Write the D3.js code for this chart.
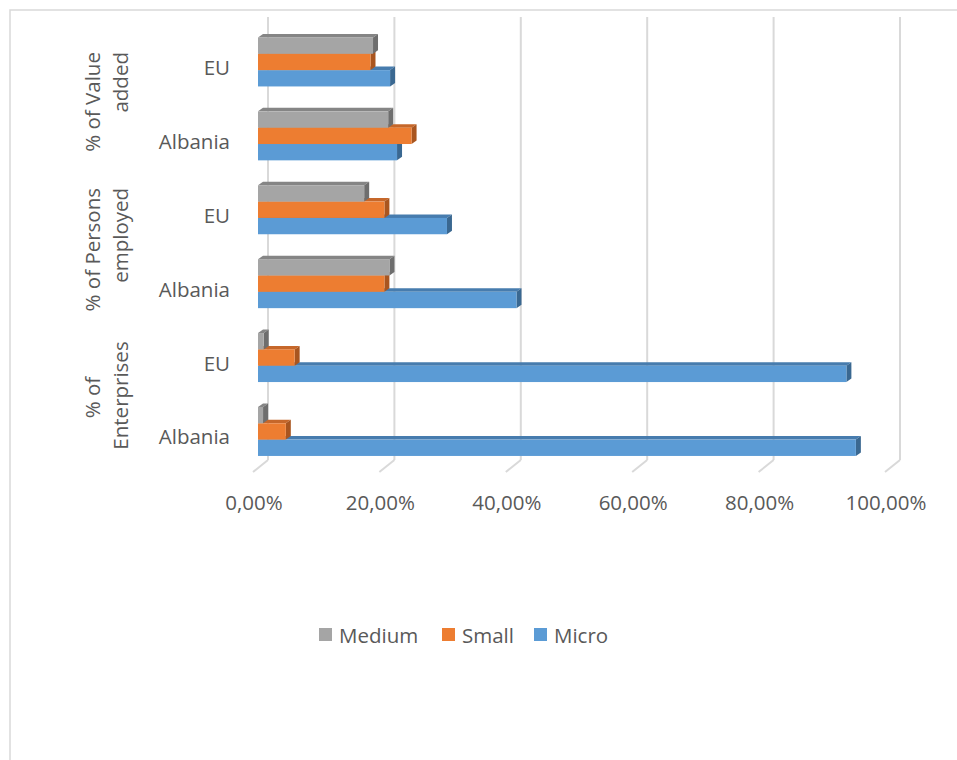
<!DOCTYPE html>
<html>
<head>
<meta charset="utf-8">
<script src="https://cdn.jsdelivr.net/npm/d3@7"></script>
<style>
  html, body { margin: 0; padding: 0; background: #fff; }
  svg { display: block; }
  text { font-family: "Open Sans", "Noto Sans", sans-serif; fill: #595959; }
</style>
</head>
<body>
<svg id="chart" width="957" height="760"></svg>
<script>
// ---------------- data ----------------
const groups = ["% of Value added", "% of Persons employed", "% of Enterprises"];
const groupLines = [["% of Value", "added"], ["% of Persons", "employed"], ["% of", "Enterprises"]];
const groupAlign = ["top", "top", "center"];
const countries = ["EU", "Albania"];
const series = ["Medium", "Small", "Micro"];
// values in %, order: [VA EU, VA Albania, PE EU, PE Albania, EN EU, EN Albania]
const medium = [18.2, 20.6, 16.8, 20.8, 0.9, 0.8];
const small  = [17.8, 24.3, 20.0, 20.0, 5.8, 4.4];
const micro  = [20.9, 22.0, 29.9, 40.9, 93.1, 94.6];
const xTicks = [0, 20, 40, 60, 80, 100];
const tickLabels = ["0,00%", "20,00%", "40,00%", "60,00%", "80,00%", "100,00%"];

const colors = {
  Medium: { front: "#A5A5A5", top: "#858585", side: "#6E6E6E" },
  Small:  { front: "#ED7D31", top: "#C6672A", side: "#A9551F" },
  Micro:  { front: "#5B9BD5", top: "#477CAE", side: "#3A6891" }
};

// build rows
const rows = [];
groups.forEach((g, gi) => countries.forEach((c, ci) => {
  const i = gi * 2 + ci;
  rows.push({ key: g + "|" + c, group: g, country: c,
    Medium: medium[i], Small: small[i], Micro: micro[i] });
}));

const svg = d3.select("#chart");

// chart border
svg.append("rect").attr("x", 10).attr("y", 10).attr("width", 1200).attr("height", 1200)
  .attr("fill", "none").attr("stroke", "#D9D9D9").attr("stroke-width", 1.5);

// ---------------- scales ----------------
const wallX0 = 268, plotW = 632, wallTop = 17, wallBottom = 460;
const floorDx = -15, floorDy = 12;        // back wall -> front edge of floor
const barDx = -10;                        // bar front plane offset from wall
const depthX = 5, depthY = -3.5;          // bar 3D depth

const xWall = d3.scaleLinear().domain([0, 100]).range([wallX0, wallX0 + plotW]);
const xBar = d3.scaleLinear().domain([0, 100]).range([wallX0 + barDx, wallX0 + barDx + plotW]);
const xFront = d3.scaleLinear().domain([0, 100]).range([wallX0 + floorDx, wallX0 + floorDx + plotW]);

const y = d3.scaleBand().domain(rows.map(r => r.key)).range([25, 468.4])
  .paddingInner(0.337).paddingOuter(0.1685);
const ySub = d3.scaleBand().domain(series).range([0, y.bandwidth()]);

// ---------------- gridlines (back wall) ----------------
const grid = svg.append("g");
grid.selectAll("line.v").data(xTicks).join("line")
  .attr("x1", d => xWall(d)).attr("x2", d => xWall(d))
  .attr("y1", wallTop).attr("y2", wallBottom)
  .attr("stroke", "#D9D9D9").attr("stroke-width", 2);
grid.selectAll("line.f").data(xTicks).join("line")
  .attr("x1", d => xWall(d)).attr("x2", d => xWall(d) + floorDx)
  .attr("y1", wallBottom).attr("y2", wallBottom + floorDy)
  .attr("stroke", "#D9D9D9").attr("stroke-width", 2);

// ---------------- bars (3D) ----------------
const drawOrder = ["Micro", "Small", "Medium"];
const bars = svg.append("g");
rows.forEach(r => {
  drawOrder.forEach(s => {
    const x0 = xBar(0), x1 = xBar(r[s]);
    const y0 = y(r.key) + ySub(s), h = ySub.bandwidth();
    const col = colors[s];
    const g = bars.append("g");
    g.append("path").attr("d",
      `M${x0},${y0} L${x0 + depthX},${y0 + depthY} L${x1 + depthX},${y0 + depthY} L${x1},${y0} Z`)
      .attr("fill", col.top);
    g.append("path").attr("d",
      `M${x1},${y0} L${x1 + depthX},${y0 + depthY} L${x1 + depthX},${y0 + h + depthY} L${x1},${y0 + h} Z`)
      .attr("fill", col.side);
    g.append("rect").attr("x", x0).attr("y", y0).attr("width", Math.max(0, x1 - x0)).attr("height", h)
      .attr("fill", col.front);
  });
});

// ---------------- category labels ----------------
const fs = 20.5;
svg.append("g").selectAll("text").data(rows).join("text")
  .attr("x", 230).attr("y", d => y(d.key) + y.bandwidth() / 2 + 5)
  .attr("text-anchor", "end").attr("dominant-baseline", "central")
  .attr("font-size", fs).text(d => d.country);

// group labels (rotated, two lines)
const gl = svg.append("g");
groups.forEach((g, gi) => {
  const k0 = rows[gi * 2].key, k1 = rows[gi * 2 + 1].key;
  const cy = (y(k0) + y(k1) + y.bandwidth()) / 2 + 3;
  const t0 = gl.append("text")
    .attr("transform", `translate(92,${cy}) rotate(-90)`)
    .attr("text-anchor", "middle").attr("dominant-baseline", "central")
    .attr("font-size", fs).text(groupLines[gi][0]);
  const len0 = t0.node().getComputedTextLength();
  const top = cy - len0 / 2;
  const t1 = gl.append("text").attr("font-size", fs)
    .attr("dominant-baseline", "central").text(groupLines[gi][1]);
  if (groupAlign[gi] === "top") {
    t1.attr("transform", `translate(120,${top}) rotate(-90)`).attr("text-anchor", "end");
  } else {
    t1.attr("transform", `translate(120,${cy - 2}) rotate(-90)`).attr("text-anchor", "middle");
  }
});

// ---------------- x tick labels ----------------
svg.append("g").selectAll("text").data(xTicks).join("text")
  .attr("x", d => xFront(d) + 1).attr("y", 510)
  .attr("text-anchor", "middle").attr("font-size", fs)
  .text((d, i) => tickLabels[i]);

// ---------------- legend ----------------
const legendItems = [
  { name: "Medium", x: 319 }, { name: "Small", x: 442 }, { name: "Micro", x: 534 }
];
const lg = svg.append("g");
legendItems.forEach(it => {
  lg.append("rect").attr("x", it.x).attr("y", 628).attr("width", 13).attr("height", 13)
    .attr("fill", colors[it.name].front);
  lg.append("text").attr("x", it.x + 20).attr("y", 635).attr("dominant-baseline", "central")
    .attr("font-size", fs).text(it.name);
});
</script>
</body>
</html>
